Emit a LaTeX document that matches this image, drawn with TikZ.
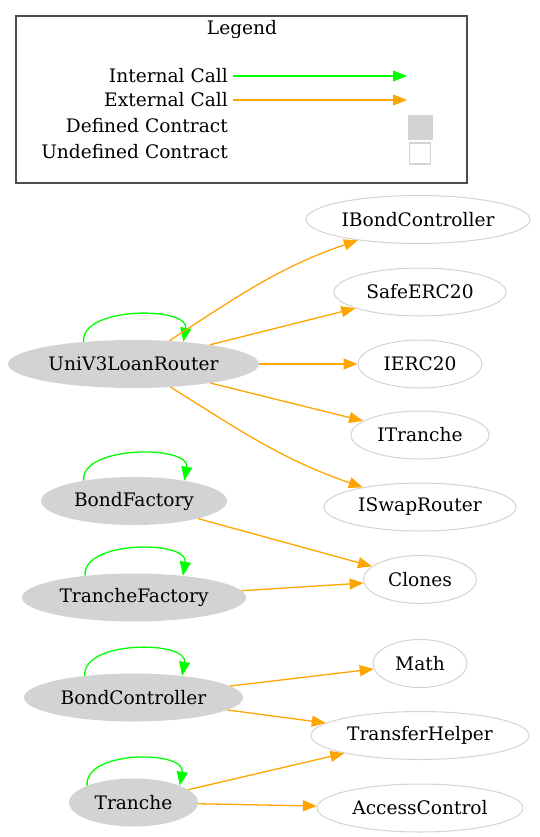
\documentclass[tikz,border=0pt]{standalone}
\usepackage{fontspec}
\setmainfont{DejaVu Serif}
\usetikzlibrary{shapes.geometric,arrows.meta}
\definecolor{lgray}{HTML}{D3D3D3}
\definecolor{callgreen}{HTML}{00FF00}
\definecolor{callorange}{HTML}{FFA500}
\begin{document}
\begin{tikzpicture}[
  x=1pt, y=1pt,
  font=\fontsize{18.6}{22}\selectfont,
  defd/.style    = {ellipse, fill=lgray, draw=none, minimum height=48pt, inner sep=0pt},
  undef/.style   = {ellipse, fill=white, draw=lgray, line width=1pt, minimum height=48pt, inner sep=0pt},
  intcall/.style = {draw=callgreen, line width=1.3pt, -{Triangle[length=14pt,width=11pt]}},
  extcall/.style = {draw=callorange, line width=1.3pt, -{Triangle[length=14pt,width=11pt]}},
  lbl/.style     = {anchor=east, inner sep=0pt},
  legbox/.style  = {draw=black!70, line width=1.1pt},
]
\useasboundingbox (0,0) rectangle (539,-837);

\def\cl{133.5}  % column x: defined contracts
\def\cr{420}    % column x: called contracts

% ---- legend ----------------------------------------------------------------
\draw[legbox] (16,-16) rectangle (467,-183);
\node (legtitle) at (242,-30) {Legend};
\node[lbl] (lint) at (228,-76)  {Internal Call};
\node[lbl] (lext) at (228,-100) {External Call};
\node[lbl] (ldef) at (228,-126) {Defined Contract};
\node[lbl] (lund) at (228,-152) {Undefined Contract};
\coordinate (lintend) at (407,-76);
\coordinate (lextend) at (407,-100);
\draw[intcall] ([xshift=5pt]lint.east) -- (lintend);
\draw[extcall] ([xshift=5pt]lext.east) -- (lextend);
\node[fill=lgray, draw=lgray, minimum size=24pt, inner sep=0pt] (ldefbox) at (420,-127) {};
\node[fill=white, draw=lgray, line width=1.2pt, minimum size=21pt, inner sep=0pt] (lundbox) at (420,-153.5) {};

% ---- defined contracts -----------------------------------------------------
\node[defd, minimum width=251pt] (uni)     at (\cl,-364)   {UniV3LoanRouter};
\node[defd, minimum width=186pt] (bfac)    at (134,-501)   {BondFactory};
\node[defd, minimum width=224pt] (tfac)    at (134,-597.5) {TrancheFactory};
\node[defd, minimum width=219pt] (bctl)    at (\cl,-697.5) {BondController};
\node[defd, minimum width=129pt] (tranche) at (\cl,-802.5) {Tranche};

% ---- called contracts ------------------------------------------------------
\node[undef, minimum width=224pt] (ibond)  at (418,-219.5) {IBondController};
\node[undef, minimum width=172pt] (safe)   at (\cr,-292)   {SafeERC20};
\node[undef, minimum width=124pt] (ierc)   at (\cr,-364)   {IERC20};
\node[undef, minimum width=138pt] (itr)    at (\cr,-435)   {ITranche};
\node[undef, minimum width=192pt] (iswap)  at (\cr,-507)   {ISwapRouter};
\node[undef, minimum width=113pt] (clones) at (\cr,-579.5) {Clones};
\node[undef, minimum width=94pt]  (math)   at (\cr,-663.5) {Math};
\node[undef, minimum width=218pt] (thelp)  at (\cr,-735.5) {TransferHelper};
\node[undef, minimum width=206pt] (acc)    at (\cr,-808)   {AccessControl};

% ---- internal calls --------------------------------------------------------
\draw[intcall] (uni.156) .. controls +(95:36) and +(80:36) .. (uni.24);
\draw[intcall] (bfac.158) .. controls +(95:36) and +(80:36) .. (bfac.22);
\draw[intcall] (tfac.156) .. controls +(95:36) and +(80:36) .. (tfac.24);
\draw[intcall] (bctl.156) .. controls +(95:36) and +(80:36) .. (bctl.24);
\draw[intcall] (tranche.160) .. controls +(95:36) and +(80:36) .. (tranche.20);

% ---- external calls --------------------------------------------------------
\draw[extcall] (uni) to[out=33, in=199] (ibond);
\draw[extcall] (uni) -- (safe);
\draw[extcall] (uni) -- (ierc);
\draw[extcall] (uni) -- (itr);
\draw[extcall] (uni) to[out=-32, in=161] (iswap);
\draw[extcall] (bfac) -- (clones);
\draw[extcall] (tfac) -- (clones);
\draw[extcall] (bctl) -- (math);
\draw[extcall] (bctl) -- (thelp);
\draw[extcall] (tranche) -- (thelp);
\draw[extcall] (tranche) -- (acc);

\end{tikzpicture}
\end{document}
